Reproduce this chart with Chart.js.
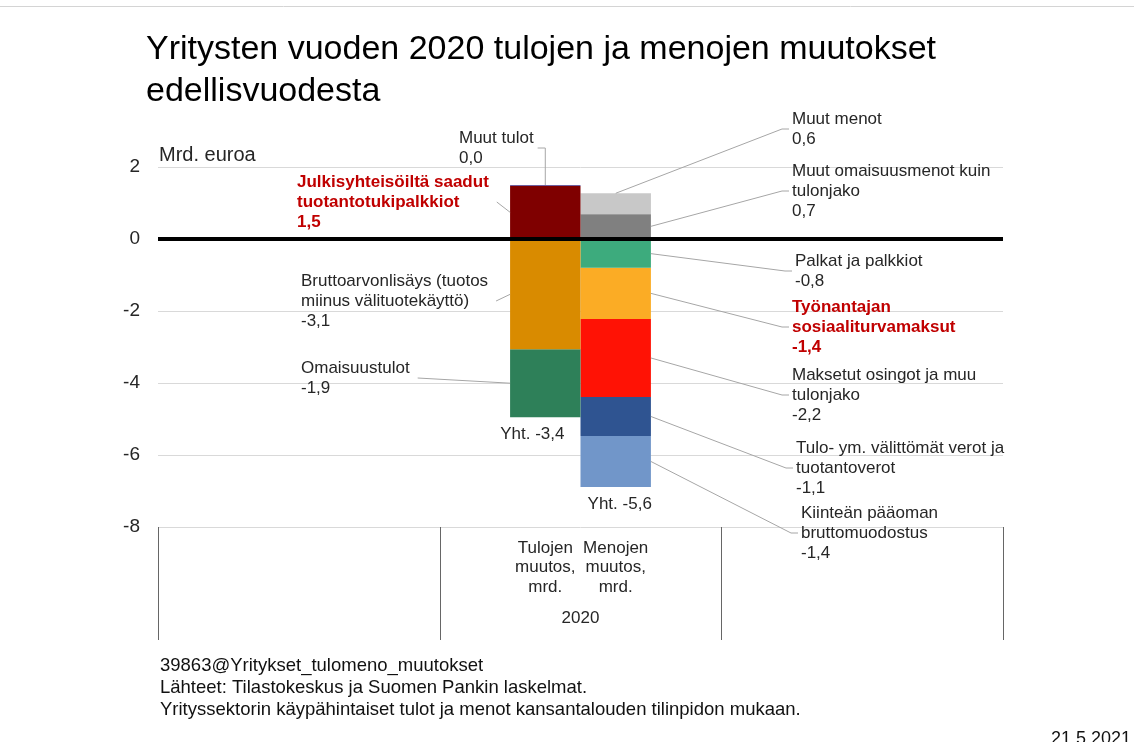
<!DOCTYPE html>
<html>
<head>
<meta charset="utf-8">
<script src="https://cdn.jsdelivr.net/npm/chart.js@4.4.1/dist/chart.umd.min.js"></script>
<style>
html, body { margin: 0; padding: 0; background: #fff; }
</style>
</head>
<body>
<canvas id="chart" width="1134" height="742"></canvas>
<script>
// data (mrd. euroa)
const categories = ['', '2020', ''];
const stackLabels = [['Tulojen', 'muutos,', 'mrd.'], ['Menojen', 'muutos,', 'mrd.']];
const incomeNames = ['Julkisyhteisöiltä saadut\ntuotantotukipalkkiot', 'Muut tulot',
    'Bruttoarvonlisäys (tuotos\nmiinus välituotekäyttö)', 'Omaisuustulot'];
const incomeValues = [1.47, 0.03, -3.06, -1.89];
const expenseNames = ['Muut omaisuusmenot kuin\ntulonjako', 'Muut menot', 'Palkat ja palkkiot',
    'Työnantajan\nsosiaaliturvamaksut', 'Maksetut osingot ja muu\ntulonjako',
    'Tulo- ym. välittömät verot ja\ntuotantoverot', 'Kiinteän pääoman\nbruttomuodostus'];
const expenseValues = [0.69, 0.58, -0.80, -1.42, -2.17, -1.08, -1.42];
const totals = [-3.4, -5.6];
const yTicks = [2, 0, -2, -4, -6, -8];

// styles
const incomeColors = ['#7f0000', '#6f5f9f', '#d98b00', '#2e8059'];
const expenseColors = ['#808080', '#c8c8c8', '#3dab7d', '#fbac25', '#ff1205', '#2f5491', '#7196c9'];
const FONT = "'Liberation Sans', Arial, sans-serif";
const RED = '#c00000';
const TXT = '#262626';

// label placement: text left x, first line centre y, where the leader meets the bar
const incomeLabelPos = [
    { x: 297, y: 182, at: 'left', hl: true },
    { x: 459, y: 138, at: 'top' },
    { x: 301, y: 281, at: 'left' },
    { x: 301, y: 368, at: 'left' }
];
const expenseLabelPos = [
    { x: 792, y: 171, at: 'right' },
    { x: 792, y: 119, at: 'topRight' },
    { x: 795, y: 261, at: 'right' },
    { x: 792, y: 307, at: 'right', hl: true },
    { x: 792, y: 375, at: 'right' },
    { x: 796, y: 448, at: 'right' },
    { x: 801, y: 513, at: 'right' }
];
const totalDx = [-13, 4];

function fmt(v) { return v.toFixed(1).replace('.', ','); }

function makeSets(names, values, colors, stack) {
    return names.map((n, i) => ({
        label: n,
        data: categories.map(c => c === '2020' ? values[i] : null),
        stack: stack,
        backgroundColor: colors[i],
        borderWidth: 0
    }));
}

const datasets = makeSets(incomeNames, incomeValues, incomeColors, 'tulot')
    .concat(makeSets(expenseNames, expenseValues, expenseColors, 'menot'));

const decor = {
    id: 'decor',
    afterDatasetsDraw(chart) {
        const c = chart.ctx;
        const area = chart.chartArea;
        const y = chart.scales.y;
        const x = chart.scales.x;
        const LH = 20;
        c.save();

        // zero line on top of bars
        c.strokeStyle = '#000';
        c.lineWidth = 4;
        c.beginPath();
        c.moveTo(area.left, y.getPixelForValue(0));
        c.lineTo(area.right, y.getPixelForValue(0));
        c.stroke();

        // category dividers under the plot
        const catW = (area.right - area.left) / categories.length;
        c.strokeStyle = '#666';
        c.lineWidth = 1;
        for (let i = 0; i <= categories.length; i++) {
            const px = Math.round(area.left + i * catW) + 0.5;
            c.beginPath();
            c.moveTo(px, area.bottom);
            c.lineTo(px, area.bottom + 113);
            c.stroke();
        }

        c.textBaseline = 'middle';

        function labelBlock(text, value, pos, bar) {
            const lines = text.split('\n').concat([fmt(value)]);
            c.font = (pos.hl ? 'bold ' : '') + '17px ' + FONT;
            c.fillStyle = pos.hl ? RED : TXT;
            c.textAlign = 'left';
            let maxW = 0;
            lines.forEach((l, k) => {
                c.fillText(l, pos.x, pos.y + k * LH);
                maxW = Math.max(maxW, c.measureText(l).width);
            });
            const midY = pos.y + (lines.length - 1) * LH / 2;
            const left = bar.x - bar.width / 2, right = bar.x + bar.width / 2;
            const top = Math.min(bar.y, bar.base), mid = (bar.y + bar.base) / 2;
            c.strokeStyle = '#a6a6a6';
            c.lineWidth = 1;
            c.beginPath();
            if (pos.at === 'left') {
                c.moveTo(pos.x + maxW + 8, midY);
                c.lineTo(left, mid);
            } else if (pos.at === 'top') {
                c.moveTo(pos.x + maxW + 4, midY);
                c.lineTo(bar.x, midY);
                c.lineTo(bar.x, top);
            } else if (pos.at === 'topRight') {
                c.moveTo(bar.x, top);
                c.lineTo(pos.x - 10, midY);
                c.lineTo(pos.x - 3, midY);
            } else {
                c.moveTo(right, mid);
                c.lineTo(pos.x - 10, midY);
                c.lineTo(pos.x - 3, midY);
            }
            c.stroke();
        }

        const nInc = incomeNames.length;
        incomeNames.forEach((n, i) => {
            labelBlock(n, incomeValues[i], incomeLabelPos[i], chart.getDatasetMeta(i).data[1]);
        });
        expenseNames.forEach((n, i) => {
            labelBlock(n, expenseValues[i], expenseLabelPos[i], chart.getDatasetMeta(nInc + i).data[1]);
        });

        // totals and stack labels
        const firstBars = [chart.getDatasetMeta(0).data[1], chart.getDatasetMeta(nInc).data[1]];
        const lastMeta = [chart.getDatasetMeta(nInc - 1).data[1], chart.getDatasetMeta(datasets.length - 1).data[1]];
        c.font = '17px ' + FONT;
        c.fillStyle = TXT;
        c.textAlign = 'center';
        totals.forEach((t, i) => {
            const b = lastMeta[i];
            c.fillText('Yht. ' + fmt(t), b.x + totalDx[i], Math.max(b.y, b.base) + 17);
        });
        stackLabels.forEach((lines, i) => {
            lines.forEach((l, k) => c.fillText(l, firstBars[i].x, area.bottom + 21 + k * 19.5));
        });
        categories.forEach((cat, i) => {
            if (cat) c.fillText(cat, x.getPixelForValue(i), area.bottom + 91);
        });

        // axis unit
        c.textAlign = 'left';
        c.font = '20px ' + FONT;
        c.fillText('Mrd. euroa', 159, 155);

        // title
        c.font = '34px ' + FONT;
        c.fillStyle = '#000';
        c.textBaseline = 'alphabetic';
        c.fillText('Yritysten vuoden 2020 tulojen ja menojen muutokset', 146, 59);
        c.fillText('edellisvuodesta', 146, 101);

        // footer
        c.font = '18.5px ' + FONT;
        c.fillStyle = '#111';
        c.fillText('39863@Yritykset_tulomeno_muutokset', 160, 671);
        c.fillText('Lähteet: Tilastokeskus ja Suomen Pankin laskelmat.', 160, 693);
        c.fillText('Yrityssektorin käypähintaiset tulot ja menot kansantalouden tilinpidon mukaan.', 160, 715);
        c.textAlign = 'right';
        c.font = '18px ' + FONT;
        c.fillText('21.5.2021', 1131, 744);

        // frame line at top
        c.strokeStyle = '#d4d4d4';
        c.beginPath();
        c.moveTo(0, 6.5);
        c.lineTo(1134, 6.5);
        c.stroke();
        c.restore();
    }
};

new Chart(document.getElementById('chart'), {
    type: 'bar',
    data: { labels: categories, datasets: datasets },
    options: {
        responsive: false,
        devicePixelRatio: 1,
        animation: false,
        categoryPercentage: 0.5,
        barPercentage: 1.0,
        layout: { padding: { left: 100, right: 131, top: 167, bottom: 215 } },
        scales: {
            x: { display: false, stacked: true },
            y: {
                stacked: true,
                min: Math.min(...yTicks),
                max: Math.max(...yTicks),
                afterFit(scale) { scale.width = 58; },
                border: { display: false },
                grid: {
                    drawTicks: false,
                    color: ctx => ctx.tick && ctx.tick.value === 0 ? 'rgba(0,0,0,0)' : '#d9d9d9',
                    lineWidth: 1
                },
                ticks: {
                    stepSize: yTicks[0] - yTicks[1],
                    padding: 18,
                    color: TXT,
                    font: { family: FONT, size: 19 }
                }
            }
        },
        plugins: {
            legend: { display: false },
            tooltip: { enabled: false },
            title: { display: false }
        }
    },
    plugins: [decor]
});
</script>
</body>
</html>
